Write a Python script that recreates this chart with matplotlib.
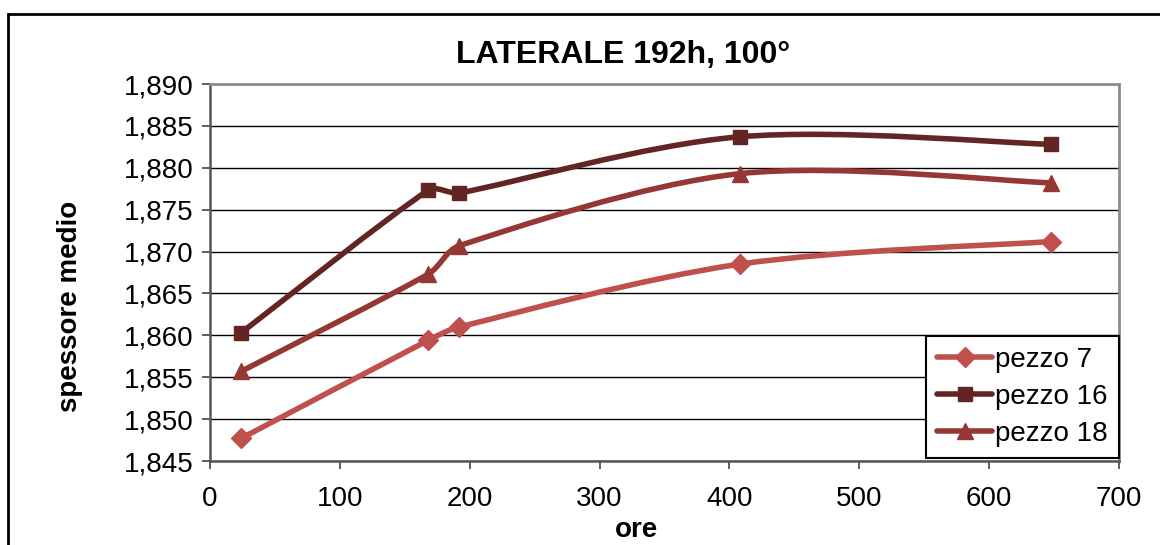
import numpy as np
import matplotlib.pyplot as plt
from matplotlib.path import Path
from matplotlib.patches import PathPatch, Rectangle
from matplotlib.lines import Line2D

plt.rcParams['font.family'] = ['Liberation Sans', 'DejaVu Sans']

# ore di trattamento
ore = [24, 168, 192, 408, 648]
# spessore medio per pezzo
pezzo_7 = [1.8477, 1.8594, 1.8610, 1.8685, 1.8712]
pezzo_16 = [1.8603, 1.8773, 1.8770, 1.8837, 1.8828]
pezzo_18 = [1.8557, 1.8673, 1.8707, 1.8793, 1.8782]

series = [
    ("pezzo 7", pezzo_7, "#C0504D", "D", 10),
    ("pezzo 16", pezzo_16, "#632523", "s", 9.5),
    ("pezzo 18", pezzo_18, "#953735", "^", 11),
]

W, H = 1160, 545
AX_L, AX_R, AX_T, AX_B = 210, 1119, 84, 461
XMAX, YMIN, YMAX = 700, 1.845, 1.890


def smooth_path(x, y):
    # curva liscia: bezier con tangenti dai punti vicini, limitate
    # alla lunghezza del segmento (calcolo in pixel)
    sx = (AX_R - AX_L) / XMAX
    sy = (AX_B - AX_T) / (YMAX - YMIN)
    p = np.column_stack([np.array(x) * sx, np.array(y) * sy]).astype(float)
    n = len(p)
    tang = []
    for i in range(n):
        a = p[i - 1] if i > 0 else p[i]
        b = p[i + 1] if i + 1 < n else p[i]
        tang.append((b - a) / 6.0)
    verts = [p[0]]
    codes = [Path.MOVETO]
    for i in range(n - 1):
        seg = np.linalg.norm(p[i + 1] - p[i])
        t1, t2 = tang[i], tang[i + 1]
        l1, l2 = np.linalg.norm(t1), np.linalg.norm(t2)
        if l1 > seg / 3:
            t1 = t1 * (seg / 3) / l1
        if l2 > seg / 3:
            t2 = t2 * (seg / 3) / l2
        verts += [p[i] + t1, p[i + 1] - t2, p[i + 1]]
        codes += [Path.CURVE4] * 3
    verts = np.array(verts) / [sx, sy]
    return Path(verts, codes)


fig = plt.figure(figsize=(W / 100, H / 100), dpi=100)
ax = fig.add_axes([AX_L / W, 1 - AX_B / H, (AX_R - AX_L) / W, (AX_B - AX_T) / H])

# cornice esterna del grafico
fig.patches.append(Rectangle((8 / W, -0.1), 1.2, 0.1 + 1 - 14 / H,
                             transform=fig.transFigure, fill=False,
                             edgecolor='black', linewidth=2, zorder=0))

handles = []
for label, vals, col, mk, ms in series:
    ax.add_patch(PathPatch(smooth_path(ore, vals), fill=False, edgecolor=col,
                           linewidth=4, capstyle='round', zorder=3))
    ax.plot(ore, vals, linestyle='none', marker=mk, markersize=ms,
            color=col, zorder=4)
    handles.append(Line2D([], [], color=col, linewidth=4, marker=mk,
                          markersize=ms, solid_capstyle='round'))

ax.set_xlim(0, XMAX)
ax.set_ylim(YMIN, YMAX)
ax.set_xticks(np.arange(0, 701, 100))
yt = np.arange(1.845, 1.8901, 0.005)
ax.set_yticks(yt)
ax.set_yticklabels([f"{v:.3f}".replace('.', ',') for v in yt])
ax.yaxis.grid(True, color='black', linewidth=1)
ax.set_axisbelow(True)
ax.tick_params(axis='both', labelsize=20, direction='out', length=6,
               width=1.2, color='#444444', pad=6)
ax.tick_params(axis='x', pad=12)

for s in ['left', 'bottom']:
    ax.spines[s].set_color('#555555')
    ax.spines[s].set_linewidth(1.8)
for s in ['top', 'right']:
    ax.spines[s].set_color('#8c8c8c')
    ax.spines[s].set_linewidth(2)

fig.text(623 / W, 1 - 55 / H, "LATERALE 192h, 100°", fontsize=23,
         fontweight='bold', ha='center', va='center')
fig.text(637 / W, 1 - 530 / H, "ore", fontsize=20, fontweight='bold',
         ha='center', va='center')
fig.text(70 / W, 1 - 306 / H, "spessore medio", fontsize=20,
         fontweight='bold', ha='center', va='center', rotation=90)

leg = ax.legend(handles, [s[0] for s in series], loc='lower right',
                bbox_to_anchor=(1.0, 0.008), fontsize=20, fancybox=False,
                framealpha=1, edgecolor='black', handlelength=2.0,
                handletextpad=0.1, borderpad=0.4, labelspacing=0.4,
                borderaxespad=0)
leg.get_frame().set_linewidth(1.5)

fig.savefig("out.png", dpi=100, facecolor='white')
